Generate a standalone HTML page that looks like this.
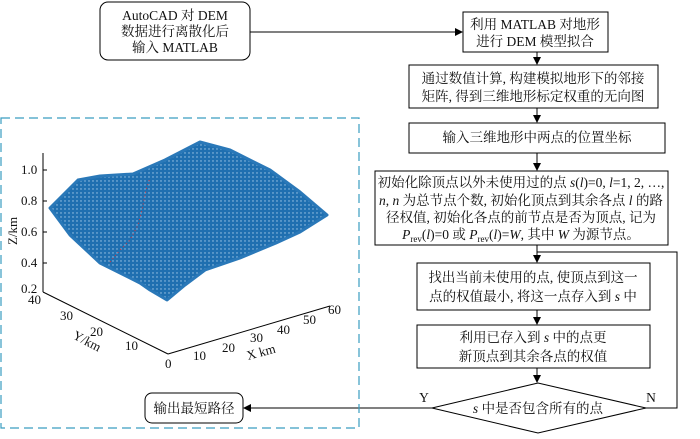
<!DOCTYPE html>
<html><head><meta charset="utf-8"><style>
body{margin:0;background:#fff;}
svg text{font-family:"Liberation Serif","Noto Serif CJK SC",serif;fill:#111;}
</style></head><body>
<svg width="700" height="434" viewBox="0 0 700 434" xmlns="http://www.w3.org/2000/svg">
<defs>
<marker id="ar" markerWidth="8" markerHeight="8" refX="7" refY="4" orient="auto" markerUnits="userSpaceOnUse"><path d="M0,0 L8,4 L0,8 z" fill="#000"/></marker>
<pattern id="dots" width="4" height="4" patternUnits="userSpaceOnUse"><rect width="4" height="4" fill="#1f6fb0"/><circle cx="1" cy="1" r="0.7" fill="#a6cbe8"/></pattern>
</defs>
<g stroke="#000" stroke-width="1" fill="#fff">
<rect x="100" y="2" width="150" height="58" rx="8"/>
<rect x="463" y="12" width="145" height="40"/>
<rect x="409" y="65" width="249" height="43"/>
<rect x="409" y="123" width="256" height="30"/>
<rect x="375" y="171" width="293" height="74"/>
<rect x="417" y="263" width="233" height="47"/>
<rect x="417" y="325" width="233" height="43"/>
<polygon points="432,408 538,383 646,408 538,433"/>
<rect x="145" y="393" width="98" height="30" rx="7"/>
</g>
<g stroke="#000" fill="none" stroke-width="1">
<line x1="250" y1="32" x2="462" y2="32" marker-end="url(#ar)"/>
<line x1="537" y1="52" x2="537" y2="64" marker-end="url(#ar)"/>
<line x1="537" y1="108" x2="537" y2="122" marker-end="url(#ar)"/>
<line x1="537" y1="153" x2="537" y2="170" marker-end="url(#ar)"/>
<line x1="537" y1="245" x2="537" y2="262" marker-end="url(#ar)"/>
<line x1="537" y1="310" x2="537" y2="324" marker-end="url(#ar)"/>
<line x1="537" y1="368" x2="537" y2="382" marker-end="url(#ar)"/>
<polyline points="646,408 677,408 677,252 537,252"/>
<line x1="432" y1="408" x2="244" y2="408" marker-end="url(#ar)"/>
</g>
<rect x="1" y="118" width="358" height="310" fill="none" stroke="#3a9dc0" stroke-width="1.2" stroke-dasharray="9,5"/>
<polygon points="50,208 78,180 100,176 133,174 165,160 200,142 230,150 270,170 300,192 327,215 300,232 276,243 240,258 205,270 185,285 167,300 150,290 140,283 100,263 70,235" fill="url(#dots)" stroke="#2a78b8" stroke-width="3" stroke-linejoin="round"/>
<polyline points="110,262 120,250 130,240 138,225 142,210 146,190 150,178" fill="none" stroke="#e03030" stroke-width="1" stroke-dasharray="1,3"/>
<g stroke="#000" stroke-width="1" fill="none">
<line x1="43" y1="153" x2="43" y2="292"/>
<line x1="43" y1="292" x2="168" y2="354"/>
<line x1="168" y1="354" x2="330" y2="306"/>
<line x1="43" y1="170" x2="47" y2="170"/><line x1="43" y1="201" x2="47" y2="201"/><line x1="43" y1="232" x2="47" y2="232"/><line x1="43" y1="263" x2="47" y2="263"/>
</g>
<g font-size="13">
<text x="21" y="174">1.0</text><text x="21" y="205">0.8</text><text x="21" y="236">0.6</text><text x="21" y="267">0.4</text><text x="21" y="293">0.2</text>
<text x="28" y="304">40</text><text x="60" y="320">30</text><text x="90" y="336">20</text><text x="125" y="350">10</text><text x="165" y="368">0</text>
<text x="193" y="360">10</text><text x="222" y="352">20</text><text x="250" y="342">30</text><text x="277" y="334">40</text><text x="303" y="324">50</text><text x="328" y="314">60</text>
<text x="248" y="360" transform="rotate(-15 248 360)">X  km</text>
<text x="72" y="338" transform="rotate(28 72 338)">Y/km</text>
<text x="17" y="245" transform="rotate(-90 17 245)">Z/km</text>
</g>
<g font-size="13.5" text-anchor="middle">
<text x="175" y="20">AutoCAD 对 DEM</text>
<text x="175" y="36">数据进行离散化后</text>
<text x="175" y="52">输入 MATLAB</text>
<text x="535" y="29">利用 MATLAB 对地形</text>
<text x="535" y="46">进行 DEM 模型拟合</text>
<text x="533" y="83">通过数值计算, 构建模拟地形下的邻接</text>
<text x="533" y="101">矩阵, 得到三维地形标定权重的无向图</text>
<text x="537" y="142">输入三维地形中两点的位置坐标</text>
<text x="521" y="187">初始化除顶点以外未使用过的点 <tspan font-style="italic">s</tspan>(<tspan font-style="italic">l</tspan>)=0, <tspan font-style="italic">l</tspan>=1, 2, …,</text>
<text x="521" y="205"><tspan font-style="italic">n</tspan>, <tspan font-style="italic">n</tspan> 为总节点个数, 初始化顶点到其余各点 <tspan font-style="italic">l</tspan> 的路</text>
<text x="521" y="222">径权值, 初始化各点的前节点是否为顶点, 记为</text>
<text x="521" y="239"><tspan font-style="italic">P</tspan><tspan font-size="9" dy="3">rev</tspan><tspan dy="-3">(</tspan><tspan font-style="italic">l</tspan>)=0 或 <tspan font-style="italic">P</tspan><tspan font-size="9" dy="3">rev</tspan><tspan dy="-3">(</tspan><tspan font-style="italic">l</tspan>)=<tspan font-style="italic">W</tspan>, 其中 <tspan font-style="italic">W</tspan> 为源节点。</text>
<text x="533" y="282">找出当前未使用的点, 使顶点到这一</text>
<text x="533" y="301">点的权值最小, 将这一点存入到 <tspan font-style="italic">s</tspan> 中</text>
<text x="533" y="342">利用已存入到 <tspan font-style="italic">s</tspan> 中的点更</text>
<text x="533" y="361">新顶点到其余各点的权值</text>
<text x="538" y="413"><tspan font-style="italic">s</tspan> 中是否包含所有的点</text>
<text x="194" y="413">输出最短路径</text>
<text x="424" y="402">Y</text>
<text x="651" y="402">N</text>
</g>
</svg>
</body></html>
